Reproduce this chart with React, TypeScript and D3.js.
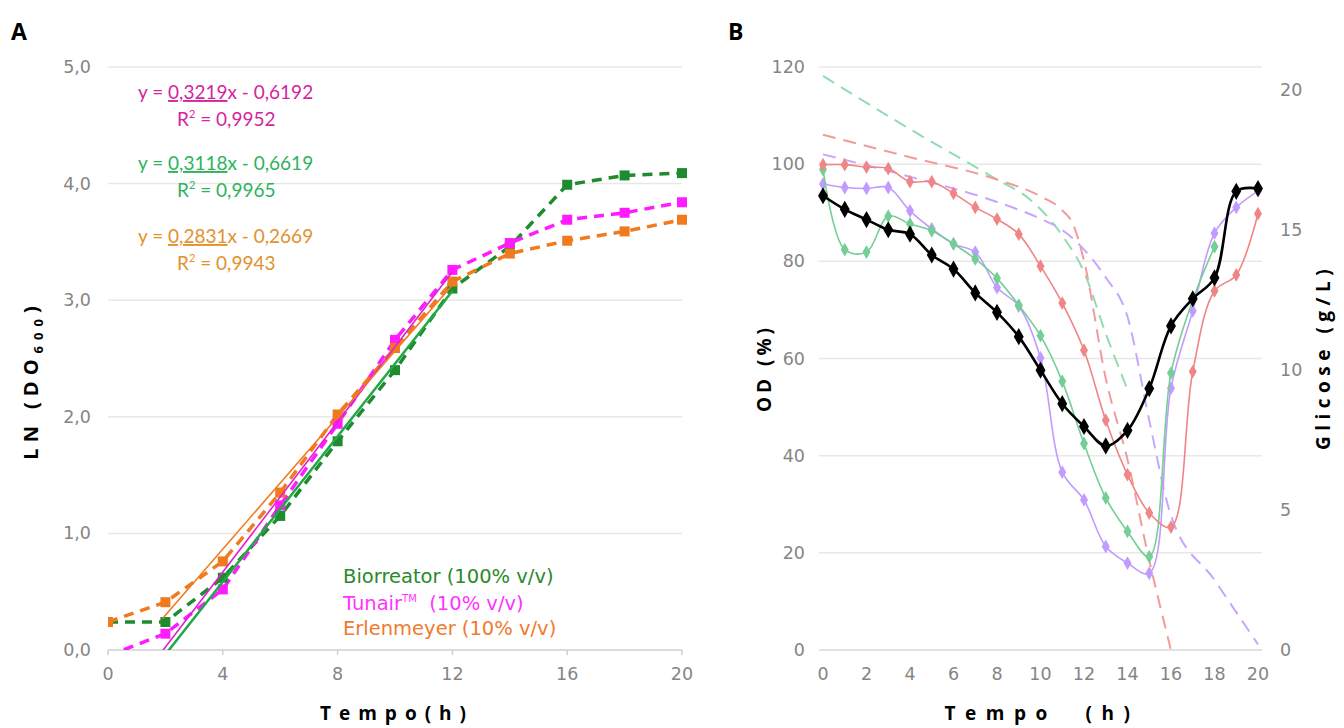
import React from "react";
import * as d3 from "d3";

// ---------- Panel A data ----------
const hoursA = [0, 2, 4, 6, 8, 10, 12, 14, 16, 18, 20];
const biorreator = [0.24, 0.24, 0.62, 1.15, 1.79, 2.4, 3.1, 3.46, 3.99, 4.07, 4.09];
const tunair = [-0.05, 0.14, 0.52, 1.24, 1.94, 2.66, 3.26, 3.49, 3.69, 3.75, 3.84];
const erlenmeyer = [0.24, 0.41, 0.76, 1.35, 2.02, 2.59, 3.16, 3.4, 3.51, 3.59, 3.69];
const trendSlopes = [0.3118, 0.3219, 0.2831];
const trendIntercepts = [-0.6619, -0.6192, -0.2669];
const trendRange = [1.9, 12];
const eqSlopeLabels = ["0,3118", "0,3219", "0,2831"];
const eqInterceptLabels = ["0,6619", "0,6192", "0,2669"];
const eqR2Labels = ["0,9965", "0,9952", "0,9943"];
const yTicksA = [0, 1, 2, 3, 4, 5];
const xTicksA = [0, 4, 8, 12, 16, 20];

// ---------- Panel B data ----------
const hoursB = d3.range(0, 21);
const odBlack = [93.5, 90.7, 88.6, 86.5, 85.6, 81.3, 78.4, 73.5, 69.5, 64.5, 57.6, 50.7, 46.0, 42.0, 45.2, 53.8, 66.7, 72.3, 76.6, 94.4, 95.0];
const odRed = [99.9, 99.9, 99.4, 99.1, 96.4, 96.4, 94.0, 91.1, 88.7, 85.6, 79.0, 71.4, 61.7, 47.3, 36.1, 28.2, 25.3, 57.3, 73.9, 77.2, 89.8];
const odGreen = [98.9, 82.4, 81.9, 89.3, 87.7, 86.3, 83.6, 80.5, 76.5, 71.0, 64.7, 55.3, 42.5, 31.3, 24.4, 19.2, 57.0, 72.0, 83.0];
const odPurple = [95.9, 95.2, 95.0, 95.2, 90.4, 86.7, 83.6, 81.9, 74.6, 70.8, 60.1, 36.6, 30.9, 21.3, 17.9, 15.8, 53.9, 69.8, 85.8, 91.1, 94.5];

const glcGreenHours = [0, 4, 8, 9.5, 11, 12, 13, 14];
const glcGreen = [20.5, 18.6, 16.8, 16.1, 14.8, 13.5, 11.3, 9.3];
const glcRedHours = [0, 4, 8, 10, 11, 11.5, 12, 13, 14, 15, 16];
const glcRed = [18.4, 17.6, 16.8, 16.2, 15.7, 15.2, 13.9, 9.7, 6.8, 3.2, 0];
const glcPurpleHours = [0, 4, 8, 10, 11, 12, 13, 14, 15, 16, 18, 20];
const glcPurple = [17.7, 16.9, 16.0, 15.4, 15.0, 14.3, 13.3, 11.9, 8.2, 4.8, 2.5, 0.2];

const yTicksB = [0, 20, 40, 60, 80, 100, 120];
const yTicksG = [0, 5, 10, 15, 20];
const xTicksB = d3.range(0, 21, 2);

const GRAY = "#858585";
const TICK_FONT = "'DejaVu Sans', Verdana, sans-serif";
const TITLE_FONT = "'Open Sans', 'DejaVu Sans', sans-serif";
const EQ_FONT = "Lato, 'Open Sans', sans-serif";

export default function App() {
  // scales A
  const xA = d3.scaleLinear().domain([0, 20]).range([108, 682]);
  const yA = d3.scaleLinear().domain([0, 5]).range([650, 67]);
  // scales B
  const xB = d3.scaleLinear().domain([0, 20]).range([823, 1258]);
  const yB = d3.scaleLinear().domain([0, 120]).range([650, 67]);
  const yG = d3.scaleLinear().domain([0, 20.82]).range([650, 67]);

  const lineA = d3
    .line<[number, number]>()
    .x((d) => xA(d[0]))
    .y((d) => yA(d[1]));

  const seriesA = [
    { name: "bio", vals: biorreator, color: "#1e8c2e", trend: "#23a847" },
    { name: "tun", vals: tunair, color: "#ff1aff", trend: "#e020d0" },
    { name: "erl", vals: erlenmeyer, color: "#f07a1e", trend: "#f07a1e" },
  ];

  const smooth = d3
    .line<[number, number]>()
    .x((d) => xB(d[0]))
    .y((d) => yB(d[1]))
    .curve(d3.curveCatmullRom.alpha(0.5));
  const glcLine = d3
    .line<[number, number]>()
    .x((d) => xB(d[0]))
    .y((d) => yG(d[1]))
    .curve(d3.curveMonotoneX);

  const diamond = d3.symbol().type(d3.symbolDiamond);

  const seriesB = [
    { vals: odPurple, color: "#c29bff", w: 1.6, size: 55 },
    { vals: odGreen, color: "#73cf95", w: 1.6, size: 55 },
    { vals: odRed, color: "#f08585", w: 1.6, size: 55 },
    { vals: odBlack, color: "#000000", w: 2.6, size: 85 },
  ];
  const glcSeries = [
    { h: glcGreenHours, v: glcGreen, color: "#93dbb1" },
    { h: glcRedHours, v: glcRed, color: "#f29b9b" },
    { h: glcPurpleHours, v: glcPurple, color: "#c7a6ff" },
  ];

  const eqRows = [
    { idx: 1, color: "#d4259f", y: 99 },
    { idx: 0, color: "#2eb35c", y: 170 },
    { idx: 2, color: "#e3912c", y: 243 },
  ];

  return (
    <svg
      width={1344}
      height={728}
      style={{ position: "absolute", left: 0, top: 0, background: "#fff" }}
    >
      <defs>
        <clipPath id="clipA">
          <rect x={108} y={60} width={580} height={590} />
        </clipPath>
      </defs>

      {/* ---------------- Panel A ---------------- */}
      <text x={11} y={40} fontFamily={TITLE_FONT} fontWeight={700} fontSize={23}>A</text>
      {yTicksA.map((t) => (
        <g key={"ga" + t}>
          <line
            x1={xA(0)}
            x2={xA(20)}
            y1={yA(t)}
            y2={yA(t)}
            stroke={t === 0 ? "#d0d0d0" : "#e8e8e8"}
            strokeWidth={1.5}
          />
          <text
            x={91}
            y={yA(t) + 6}
            textAnchor="end"
            fontFamily={TICK_FONT}
            fontSize={17.5}
            fill={GRAY}
          >
            {d3.format(".1f")(t).replace(".", ",")}
          </text>
        </g>
      ))}
      {xTicksA.map((t) => (
        <g key={"xa" + t}>
          <line x1={xA(t)} x2={xA(t)} y1={650} y2={655} stroke="#d0d0d0" strokeWidth={1.5} />
          <text
            x={xA(t)}
            y={680}
            textAnchor="middle"
            fontFamily={TICK_FONT}
            fontSize={17.5}
            fill={GRAY}
          >
            {t}
          </text>
        </g>
      ))}
      <text
        x={397}
        y={720}
        textAnchor="middle"
        fontFamily={TITLE_FONT}
        fontWeight={700}
        fontSize={19}
        letterSpacing={8}
      >
        Tempo(h)
      </text>
      <text
        transform={`translate(38,380) rotate(-90)`}
        textAnchor="middle"
        fontFamily={TITLE_FONT}
        fontWeight={700}
        fontSize={20}
        letterSpacing={6}
      >
        LN (DO<tspan fontSize={13} dy={5}>600</tspan>
        <tspan dy={-5}>)</tspan>
      </text>

      <g clipPath="url(#clipA)">
        {seriesA.map((s) => (
          <path
            key={s.name}
            d={lineA(hoursA.map((h, i) => [h, s.vals[i]]) as [number, number][]) || ""}
            fill="none"
            stroke={s.color}
            strokeWidth={3.5}
            strokeDasharray="10,7"
          />
        ))}
        {seriesA.map((s) =>
          hoursA.map((h, i) => (
            <rect
              key={s.name + i}
              x={xA(h) - 5}
              y={yA(s.vals[i]) - 5}
              width={10}
              height={10}
              fill={s.color}
            />
          ))
        )}
        {seriesA.map((s, k) => (
          <path
            key={"tr" + s.name}
            d={
              lineA(
                trendRange.map((x) => [x, trendSlopes[k] * x + trendIntercepts[k]]) as [number, number][]
              ) || ""
            }
            fill="none"
            stroke={s.trend}
            strokeWidth={k === 0 ? 2.5 : 1.6}
          />
        ))}
      </g>

      {eqRows.map((r) => (
        <g key={"eq" + r.idx} fontFamily={EQ_FONT} fontSize={19} fill={r.color}>
          <text x={138} y={r.y}>
            {"y = "}
            <tspan textDecoration="underline" style={{ textDecoration: "underline" }}>
              {eqSlopeLabels[r.idx]}
            </tspan>
            {"x - " + eqInterceptLabels[r.idx]}
          </text>
          <text x={177} y={r.y + 27}>
            R<tspan fontSize={11} dy={-8}>2</tspan>
            <tspan dy={8}>{" = " + eqR2Labels[r.idx]}</tspan>
          </text>
        </g>
      ))}

      <g fontFamily={TICK_FONT} fontSize={19.5}>
        <text x={343} y={583} fill="#2a8a2a">Biorreator (100% v/v)</text>
        <text x={343} y={610} fill="#ff33ff">
          Tunair<tspan fontSize={10} dy={-8}>TM</tspan>
          <tspan dy={8}>{"\u00A0\u00A0(10% v/v)"}</tspan>
        </text>
        <text x={343} y={635} fill="#f07a30">Erlenmeyer (10% v/v)</text>
      </g>

      {/* ---------------- Panel B ---------------- */}
      <text x={728} y={40} fontFamily={TITLE_FONT} fontWeight={700} fontSize={23}>B</text>
      {yTicksB.map((t) => (
        <g key={"gb" + t}>
          <line
            x1={xB(0) - 4}
            x2={xB(20) + 4}
            y1={yB(t)}
            y2={yB(t)}
            stroke={t === 0 ? "#d8d8d8" : "#e8e8e8"}
            strokeWidth={1.5}
          />
          <text
            x={805}
            y={yB(t) + 6}
            textAnchor="end"
            fontFamily={TICK_FONT}
            fontSize={17.5}
            fill={GRAY}
          >
            {t}
          </text>
        </g>
      ))}
      {yTicksG.map((t) => (
        <text
          key={"gg" + t}
          x={1280}
          y={yG(t) + 6}
          textAnchor="start"
          fontFamily={TICK_FONT}
          fontSize={17.5}
          fill={GRAY}
        >
          {t}
        </text>
      ))}
      {xTicksB.map((t) => (
        <text
          key={"xb" + t}
          x={xB(t)}
          y={680}
          textAnchor="middle"
          fontFamily={TICK_FONT}
          fontSize={17.5}
          fill={GRAY}
        >
          {t}
        </text>
      ))}
      <text
        x={1042}
        y={720}
        textAnchor="middle"
        fontFamily={TITLE_FONT}
        fontWeight={700}
        fontSize={19}
        letterSpacing={9.5}
      >
        {"Tempo\u00A0\u00A0(h)"}
      </text>
      <text
        transform={`translate(771,368) rotate(-90)`}
        textAnchor="middle"
        fontFamily={TITLE_FONT}
        fontWeight={700}
        fontSize={19}
        letterSpacing={4}
      >
        OD (%)
      </text>
      <text
        transform={`translate(1330,357) rotate(-90)`}
        textAnchor="middle"
        fontFamily={TITLE_FONT}
        fontWeight={700}
        fontSize={19}
        letterSpacing={5.5}
      >
        Glicose (g/L)
      </text>

      {glcSeries.map((s, k) => (
        <path
          key={"glc" + k}
          d={glcLine(s.h.map((h, i) => [h, s.v[i]]) as [number, number][]) || ""}
          fill="none"
          stroke={s.color}
          strokeWidth={2}
          strokeDasharray="13,8"
        />
      ))}
      {seriesB.map((s, k) => (
        <g key={"sb" + k}>
          <path
            d={smooth(s.vals.map((v, i) => [hoursB[i], v]) as [number, number][]) || ""}
            fill="none"
            stroke={s.color}
            strokeWidth={s.w}
          />
          {s.vals.map((v, i) => (
            <path
              key={i}
              d={diamond.size(s.size)() || ""}
              transform={`translate(${xB(hoursB[i])},${yB(v)})`}
              fill={s.color}
            />
          ))}
        </g>
      ))}
    </svg>
  );
}
